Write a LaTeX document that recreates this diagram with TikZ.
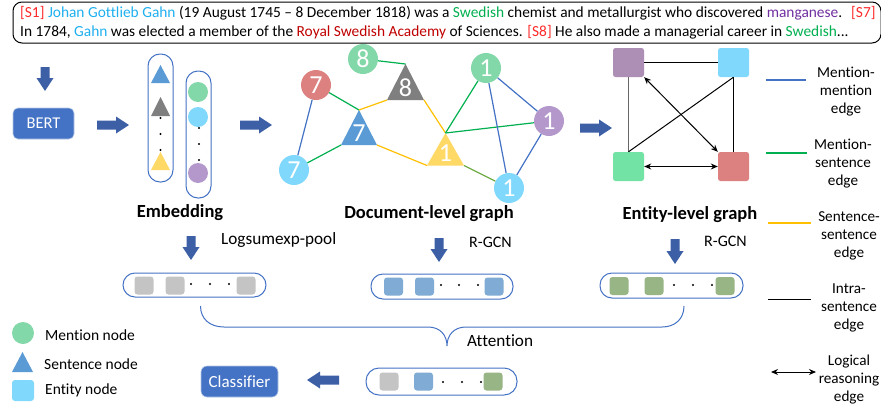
\documentclass[tikz,border=0pt]{standalone}
\usepackage{fontspec}
\setmainfont{Carlito}[Ligatures={NoCommon}]
\usetikzlibrary{arrows.meta}
\definecolor{arrowblue}{HTML}{3C5FA6}
\definecolor{boxblue}{HTML}{4472C4}
\definecolor{triblue}{HTML}{5B9BD5}
\definecolor{trigray}{HTML}{7F7F7F}
\definecolor{triyellow}{HTML}{FFD966}
\definecolor{cgreen}{HTML}{82D8A8}
\definecolor{cred}{HTML}{DC8080}
\definecolor{cblue}{HTML}{80D8FC}
\definecolor{cpurple}{HTML}{B498CC}
\definecolor{spurple}{HTML}{AD8FB5}
\definecolor{sgreen}{HTML}{73E3A5}
\definecolor{rowgray}{HTML}{C4C4C4}
\definecolor{rowblue}{HTML}{7FABD4}
\definecolor{rowgreen}{HTML}{98B685}
\definecolor{edgeblue}{HTML}{4472C4}
\definecolor{edgegreen}{HTML}{00B050}
\definecolor{edgeyellow}{HTML}{FFC000}
\definecolor{edgeolive}{HTML}{70AD47}
\definecolor{tred}{HTML}{FF2A2A}
\definecolor{tcyan}{HTML}{1FB0F0}
\definecolor{tgreen}{HTML}{00B050}
\definecolor{tpurple}{HTML}{7030A0}
\definecolor{tdark}{HTML}{C00000}
\newcommand{\blockarrow}[4]{%
  \fill[arrowblue,shift={(#1,#2)},rotate=#3]
    (0,-4.5) -- ({#4-13},-4.5) -- ({#4-13},-8.5) -- (#4,0) -- ({#4-13},8.5) -- ({#4-13},4.5) -- (0,4.5) -- cycle;}
\newcommand{\trinode}[7]{% name, cx, apex y, base y, half width, colour, text
  \coordinate (#1-a) at (#2,#3);
  \coordinate (#1-l) at ({#2-#5},#4);
  \coordinate (#1-r) at ({#2+#5},#4);
  \fill[#6] (#1-a) -- (#1-l) -- (#1-r) -- cycle;
  \node[numtext] (#1) at (#2,{#4-12}) {#7};}
\newcommand{\rowsquare}[4]{% name, x, y, colour
  \node[rowsq,fill=#4] (#1) at (#2,#3) {};}
\newcommand{\rowdot}[2]{\fill (#1,#2) circle (1.05);}
\tikzset{
  x=1pt,y=-1pt,
  numtext/.style={text=white,inner sep=0pt,font=\fontsize{26}{26}\selectfont},
  docircle/.style={circle,minimum size=30pt,inner sep=0pt,text=white,font=\fontsize{26}{26}\selectfont},
  embcircle/.style={circle,minimum size=20pt,inner sep=0pt},
  entsq/.style={rectangle,rounded corners=2.5pt,minimum width=31pt,minimum height=29pt,inner sep=0pt},
  rowsq/.style={rectangle,rounded corners=3pt,minimum width=19pt,minimum height=18pt,inner sep=0pt},
  capsule/.style={draw=boxblue,line width=1pt,rectangle,rounded corners=12pt,inner sep=0pt},
  bluebtn/.style={fill=boxblue,draw=boxblue!40,line width=0.6pt,rounded corners=5pt,text=white,inner sep=0pt,font=\fontsize{16.5}{16.5}\selectfont},
  lab/.style={inner sep=0pt,font=\fontsize{15.5}{15.5}\selectfont},
  rgcn/.style={inner sep=0pt,anchor=west,font=\fontsize{16}{16}\selectfont},
  biglab/.style={inner sep=0pt,anchor=west,font=\fontsize{17.2}{17.2}\selectfont},
  boldlab/.style={inner sep=0pt,font=\fontsize{18.5}{18.5}\selectfont\bfseries},
  sidelab/.style={inner sep=0pt,align=center,font=\fontsize{15.2}{18}\selectfont},
  txt/.style={inner sep=0pt,anchor=west,font=\fontsize{15.4}{15.4}\selectfont},
  bigedge/.style={line width=1.2pt},
  keyedge/.style={line width=1.2pt},
  twoway/.style={{Stealth[length=7pt,width=6pt]}-{Stealth[length=7pt,width=6pt]},line width=1pt}
}
\begin{document}
\begin{tikzpicture}
\useasboundingbox (0,0) rectangle (881,410);
\fill[white] (0,0) rectangle (881,410);
% text box
\node[draw=black,line width=1pt,rounded corners=9pt,minimum width=868pt,minimum height=41pt,inner sep=0pt] (doc) at (447,22.5) {};
\node[txt] (l1) at (20,13.5) {\textcolor{tred}{[S1]} \textcolor{tcyan}{Johan Gottlieb Gahn} (19 August 1745 – 8 December 1818) was a \textcolor{tgreen}{Swedish} chemist and metallurgist who discovered \textcolor{tpurple}{manganese}.\hspace{9pt}\textcolor{tred}{[S7]}};
\node[txt] (l2) at (20,32.5) {In 1784, \textcolor{tcyan}{Gahn} was elected a member of the \textcolor{tdark}{Royal Swedish Academy} of Sciences. \textcolor{tred}{[S8]} He also made a managerial career in \textcolor{tgreen}{Swedish}...};
% BERT
\blockarrow{45}{67}{-90}{24}
\node[bluebtn,minimum width=61pt,minimum height=31pt] (bert) at (43.5,123.5) {BERT};
\blockarrow{97}{125}{0}{32}
\blockarrow{240}{125}{0}{32}
\blockarrow{580}{128}{0}{32}
% embedding capsules
\node[capsule,minimum width=25pt,minimum height=128pt] (capa) at (160.5,118) {};
\node[capsule,minimum width=25pt,minimum height=127pt] (capb) at (198.5,134.5) {};
\fill[triblue] (160.5,65) -- (151,83) -- (170,83) -- cycle;
\fill[trigray] (160.5,97) -- (151,116) -- (170,116) -- cycle;
\fill[triyellow] (160.5,152) -- (151,170) -- (170,170) -- cycle;
\foreach \y in {118,134,150} {\fill (160.5,\y) circle (1.05);}
\node[embcircle,fill=cgreen] (e1) at (198,92) {};
\node[embcircle,fill=cblue] (e2) at (198,117) {};
\node[embcircle,fill=cpurple] (e3) at (198,173) {};
\foreach \y in {128,144,160} {\fill (199,\y) circle (1.05);}
% document graph
\node[docircle,fill=cgreen] (m8) at (363,59) {8};
\node[docircle,fill=cred] (m7r) at (316,85) {7};
\node[docircle,fill=cblue] (m7b) at (294,170) {7};
\node[docircle,fill=cgreen] (m1g) at (486,68) {1};
\node[docircle,fill=cpurple] (m1p) at (549,121) {1};
\node[docircle,fill=cblue] (m1b) at (509,188) {1};
\trinode{t8}{405.5}{64}{100}{18.5}{trigray}{8}
\trinode{t7}{359}{110}{145}{18}{triblue}{7}
\trinode{t1}{445.5}{133}{165.5}{18.5}{triyellow}{1}
\draw[edgegreen,bigedge] (m8) -- (t8-a);
\draw[edgegreen,bigedge] (m7r) -- (t7-a);
\draw[edgegreen,bigedge] (m7b) -- (t7-l);
\draw[edgeyellow,bigedge] (t7-a) -- (t8-l);
\draw[edgeyellow,bigedge] (t8-r) -- (t1-a);
\draw[edgeyellow,bigedge] (t7-r) -- (t1-l);
\draw[edgeblue,bigedge] (m7r) -- (m7b);
\draw[edgegreen,bigedge] (t1-a) -- (m1g);
\draw[edgegreen,bigedge] (t1-a) -- (m1p);
\draw[edgeolive,bigedge] (t1-r) -- (m1b);
\draw[edgeblue,bigedge] (m1g) -- (m1p);
\draw[edgeblue,bigedge] (m1g) -- (m1b);
\draw[edgeblue,bigedge] (m1p) -- (m1b);
% entity graph
\node[entsq,fill=spurple] (ep) at (628.5,62.5) {};
\node[entsq,fill=cblue] (eb) at (733.5,62.5) {};
\node[entsq,fill=sgreen] (eg) at (628.5,166.5) {};
\node[entsq,fill=cred] (er) at (733.5,166.5) {};
\draw[line width=1pt] (ep) -- (eb);
\draw[line width=1.5pt,black!60] (ep) -- (eg);
\draw[line width=1pt] (eb) -- (er);
\draw[line width=1pt] (eb.south) -- (eg.north);
\draw[twoway] (ep.south east) -- (er.north west);
\draw[twoway] (eg) -- (er);
% headings
\node[boldlab] (hemb) at (180,212.5) {Embedding};
\node[boldlab] (hdoc) at (429,214) {Document-level graph};
\node[boldlab] (hent) at (690,215) {Entity-level graph};
\blockarrow{191}{236}{-90}{24}
\blockarrow{439}{238}{-90}{24}
\blockarrow{675}{239}{-90}{25}
\node[biglab] (lpool) at (221,240) {Logsumexp-pool};
\node[rgcn] (lr1) at (469,242) {R-GCN};
\node[rgcn] (lr2) at (704,241) {R-GCN};
% rows
\node[capsule,minimum width=143pt,minimum height=24pt] (r1) at (194.5,285) {};
\rowsquare{r1a}{144}{285.5}{rowgray}
\rowsquare{r1b}{175}{285.5}{rowgray}
\rowsquare{r1c}{246}{285.5}{rowgray}
\foreach \x in {191,210,229} {\rowdot{\x}{284}}
\node[capsule,minimum width=142pt,minimum height=25pt] (r2) at (442,286.5) {};
\rowsquare{r2a}{393.5}{286.5}{rowblue}
\rowsquare{r2b}{424.5}{286.5}{rowblue}
\rowsquare{r2c}{494}{286.5}{rowblue}
\foreach \x in {441,459,478} {\rowdot{\x}{285}}
\node[capsule,minimum width=143pt,minimum height=25pt] (r3) at (671.5,285.5) {};
\rowsquare{r3a}{619}{286}{rowgreen}
\rowsquare{r3b}{654}{286}{rowgreen}
\rowsquare{r3c}{725}{286}{rowgreen}
\foreach \x in {674,693,712} {\rowdot{\x}{285}}
\node[capsule,minimum width=151pt,minimum height=27pt,rounded corners=13pt] (r4) at (441.5,381.5) {};
\rowsquare{r4a}{389}{381.5}{rowgray}
\rowsquare{r4b}{423.5}{381.5}{rowblue}
\rowsquare{r4c}{493}{381.5}{rowgreen}
\foreach \x in {443,462,481} {\rowdot{\x}{382}}
% brace
\coordinate (bl) at (200.5,306);
\coordinate (bm) at (447,346);
\coordinate (br) at (684,306);
\draw[boxblue,line width=1pt] (bl) .. controls (200.5,319) and (210,327) .. (224,327) -- (428,327)
  .. controls (440,327) and (447,335) .. (bm) .. controls (447,335) and (454,327) .. (466,327) -- (662,327)
  .. controls (675,327) and (684,319) .. (br);
\node[biglab] (latt) at (467,341) {Attention};
% classifier
\node[bluebtn,minimum width=77pt,minimum height=31pt,rounded corners=6pt,font=\fontsize{17}{17}\selectfont] (cls) at (239.5,381.5) {Classifier};
\blockarrow{339}{380}{180}{32}
% left legend
\node[circle,fill=cgreen,minimum size=22pt,inner sep=0pt] (lm) at (23,333) {};
\fill[triblue] (22.5,352) -- (12,372) -- (33,372) -- cycle;
\node[rectangle,fill=cblue,rounded corners=3pt,minimum width=22pt,minimum height=21pt,inner sep=0pt] (le) at (23,390.5) {};
\node[lab,anchor=west] (ltm) at (45,335) {Mention node};
\node[lab,anchor=west] (lts) at (44,364) {Sentence node};
\node[lab,anchor=west] (lte) at (45,390) {Entity node};
% right legend
\coordinate (k1a) at (766,80); \coordinate (k1b) at (806,80);
\coordinate (k2a) at (766,153); \coordinate (k2b) at (807,153);
\coordinate (k3a) at (768,223); \coordinate (k3b) at (811,223);
\coordinate (k4a) at (768,299.5); \coordinate (k4b) at (811,299.5);
\coordinate (k5a) at (771,372); \coordinate (k5b) at (816,372);
\draw[edgeblue,keyedge] (k1a) -- (k1b);
\draw[edgegreen,keyedge] (k2a) -- (k2b);
\draw[edgeyellow,keyedge] (k3a) -- (k3b);
\draw[black,line width=1.1pt] (k4a) -- (k4b);
\draw[twoway] (k5a) -- (k5b);
\node[sidelab] (s1) at (846,92) {Mention-\\mention\\edge};
\node[sidelab] (s2) at (843,163.5) {Mention-\\sentence\\edge};
\node[sidelab] (s3) at (849,236) {Sentence-\\sentence\\edge};
\node[sidelab] (s4) at (849,308) {Intra-\\sentence\\edge};
\node[sidelab] (s5) at (849,380) {Logical\\reasoning\\edge};
\end{tikzpicture}
\end{document}
